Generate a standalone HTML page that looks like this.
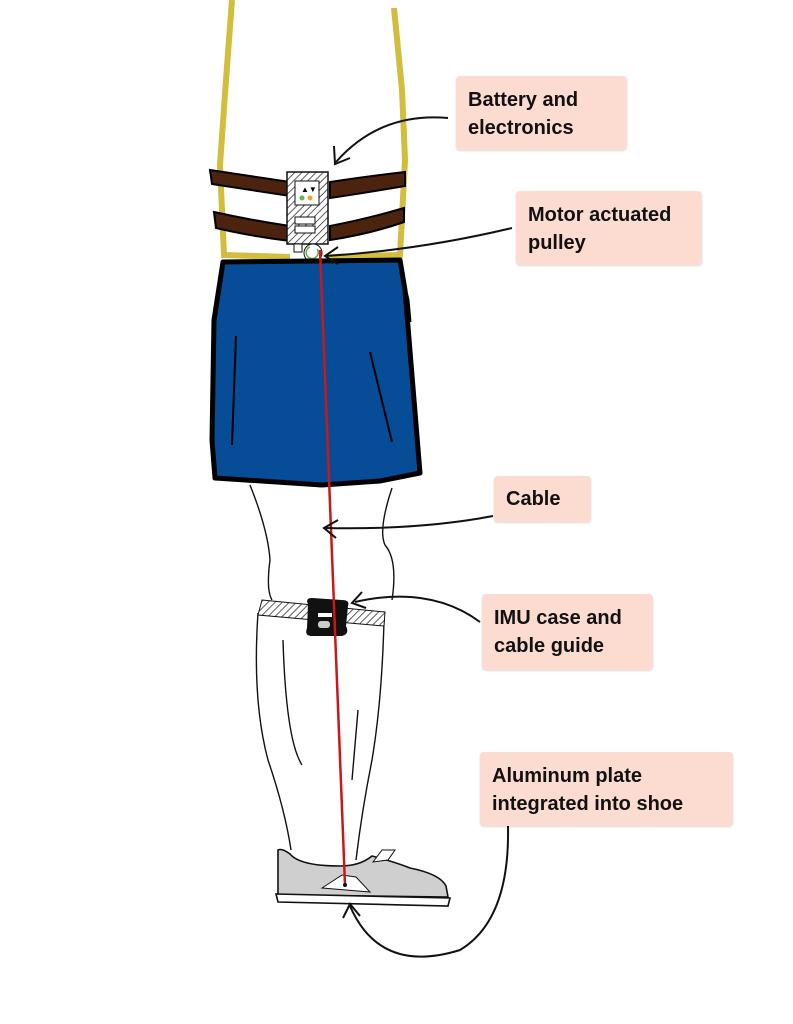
<!DOCTYPE html>
<html><head><meta charset="utf-8"><style>
html,body{margin:0;padding:0;background:#fff;width:793px;height:1024px;overflow:hidden}
.lbl{position:absolute;background:#fcdcd0;border-radius:4px;box-shadow:0 1px 2px rgba(0,0,0,.15);font-family:"Liberation Sans",sans-serif;font-weight:bold;font-size:20px;line-height:28px;color:#111;padding:10px 12px;box-sizing:border-box}
</style></head><body>
<svg width="793" height="1024" viewBox="0 0 793 1024" style="position:absolute;left:0;top:0">
<defs>
<pattern id="h" width="5" height="5" patternUnits="userSpaceOnUse" patternTransform="rotate(45)"><rect width="5" height="5" fill="#fff"/><line x1="0" y1="0" x2="0" y2="5" stroke="#333" stroke-width="1.6"/></pattern>
</defs>
<!-- yellow torso -->
<path d="M232 0 L226 80 L220 165 L224 255 L290 257" fill="none" stroke="#d2bd3c" stroke-width="6"/>
<path d="M394 8 L402 90 L405 160 L400 255 L330 257" fill="none" stroke="#d2bd3c" stroke-width="6"/>
<!-- belts -->
<path d="M210 170 Q250 176 290 182 L290 196 Q250 190 212 184 Z" fill="#4b230e" stroke="#000" stroke-width="2"/>
<path d="M330 182 Q370 176 405 172 L405 186 Q370 192 330 198 Z" fill="#4b230e" stroke="#000" stroke-width="2"/>
<path d="M214 212 Q250 220 290 226 L290 241 Q250 236 216 228 Z" fill="#4b230e" stroke="#000" stroke-width="2"/>
<path d="M330 226 Q370 218 404 208 L404 222 Q370 234 330 240 Z" fill="#4b230e" stroke="#000" stroke-width="2"/>
<!-- device -->
<rect x="287" y="172" width="41" height="72" fill="url(#h)" stroke="#111" stroke-width="1.5"/>
<rect x="295" y="181" width="24" height="24" fill="#fff" stroke="#111"/>
<text x="301" y="192" font-size="8" font-family="Liberation Sans">▲▼</text>
<circle cx="302" cy="198" r="2.5" fill="#6ab04c"/><circle cx="310" cy="198" r="2.5" fill="#f0a040"/>
<rect x="295" y="217" width="20" height="7" fill="#fff" stroke="#111"/>
<rect x="295" y="226" width="20" height="7" fill="#fff" stroke="#111"/>
<rect x="294" y="244" width="8" height="8" fill="#fff" stroke="#111"/>
<circle cx="313" cy="253" r="9" fill="#fff" stroke="#111"/>
<path d="M310 247 A6 6 0 1 0 317 249" fill="none" stroke="#6ab04c" stroke-width="1.5"/>
<!-- skirt -->
<path d="M223 262 L400 260 L405 290 L420 473 L380 481 L322 485 L215 478 L212 440 L214 320 Z" fill="#064c96" stroke="#000" stroke-width="5" stroke-linejoin="round"/>
<path d="M400 266 L408 300 L410 322" fill="none" stroke="#000" stroke-width="3"/>
<path d="M236 336 L232 445" stroke="#000" stroke-width="2"/>
<path d="M370 352 L392 442" stroke="#000" stroke-width="2"/>
<!-- legs -->
<g fill="none" stroke="#111" stroke-width="1.4">
<path d="M250 485 Q268 530 270 560 Q266 590 272 600"/>
<path d="M392 488 Q378 530 385 545 Q398 560 392 600"/>
<path d="M258 613 Q252 700 268 760 Q285 810 291 850"/>
<path d="M384 620 Q382 700 372 760 Q362 810 356 860"/>
<path d="M283 640 Q286 740 302 765"/>
<path d="M358 710 L352 780"/>
<path d="M369 885 L371 900"/>
</g>
<!-- knee strap -->
<path d="M262 600 L385 612 L384 626 L258 615 Z" fill="url(#h)" stroke="#111"/>
<path d="M308 604 Q305 598 312 598 L342 600 Q350 600 348 606 L346 626 Q350 634 342 636 L312 636 Q304 636 307 628 Z" fill="#111"/>
<rect x="318" y="613" width="14" height="4" fill="#fff"/>
<rect x="318" y="621" width="12" height="7" rx="3" fill="#ccc"/>
<!-- shoe -->
<path d="M278 850 Q282 848 290 854 Q300 866 340 866 Q360 866 372 856 Q395 862 410 868 Q440 874 446 886 L448 897 L278 895 Z" fill="#cfcfcf" stroke="#111" stroke-width="1.6"/>
<path d="M322 888 L342 875 L356 877 L370 892 Z" fill="#fff" stroke="#111"/>
<path d="M373 862 L382 850 L395 850 L388 860 Z" fill="#fff" stroke="#111"/>
<path d="M276 894 L450 898 L448 906 L278 902 Z" fill="#fff" stroke="#111" stroke-width="1.6"/>
<!-- cable -->
<line x1="320" y1="250" x2="345" y2="885" stroke="#c81818" stroke-width="2.5"/>
<circle cx="345" cy="885" r="2" fill="#111"/>
<!-- arrows -->
<g fill="none" stroke="#111" stroke-width="2">
<path d="M448 118 Q380 112 336 162"/><path d="M334 146 L335 164 L350 158"/>
<path d="M512 228 Q420 250 326 256"/><path d="M338 247 L325 256 L338 264"/>
<path d="M493 516 Q420 530 325 528"/><path d="M338 520 L324 528 L336 538"/>
<path d="M480 622 Q430 585 355 602"/><path d="M362 592 L352 603 L366 608"/>
<path d="M508 826 Q510 920 460 950 Q380 975 350 906"/><path d="M343 918 L350 904 L360 916"/>
</g>
</svg>
<div class="lbl" style="left:456px;top:76px;width:171px;height:74px">Battery and<br>electronics</div>
<div class="lbl" style="left:516px;top:191px;width:186px;height:74px">Motor actuated<br>pulley</div>
<div class="lbl" style="left:494px;top:476px;width:97px;height:46px;padding-top:9px">Cable</div>
<div class="lbl" style="left:482px;top:594px;width:171px;height:76px">IMU case and<br>cable guide</div>
<div class="lbl" style="left:480px;top:752px;width:253px;height:74px">Aluminum plate<br>integrated into shoe</div>
</body></html>
